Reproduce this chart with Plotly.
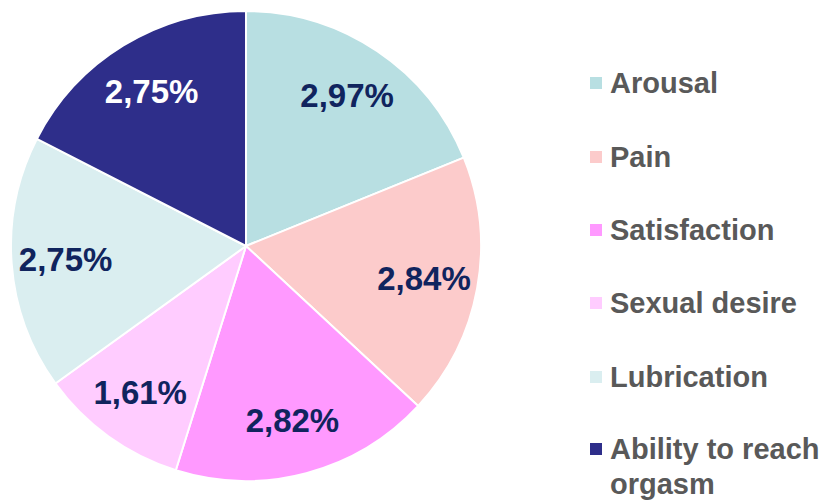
import plotly.graph_objects as go

categories = ["Arousal", "Pain", "Satisfaction", "Sexual desire", "Lubrication", "Ability to reach<br>orgasm"]
values = [2.97, 2.84, 2.82, 1.61, 2.75, 2.75]
colors = ["#B8DFE2", "#FCCBCB", "#FF99FF", "#FFCCFF", "#DAEEF0", "#2E2E8A"]
text_colors = ["#10245E", "#10245E", "#10245E", "#10245E", "#10245E", "#FFFFFF"]

labels_text = [f"{v:.2f}".replace(".", ",") + "%" for v in values]

# the page body has an 8px margin; positions below compensate for it
W, H, OFF = 832, 500, 8
cx, cy, R = 246 - OFF, 246 - OFF, 235
dom = dict(x=[(cx - R) / W, (cx + R) / W], y=[1 - (cy + R) / H, 1 - (cy - R) / H])

fig = go.Figure()
# coloured slices
fig.add_trace(go.Pie(
    labels=categories, values=values,
    textinfo="none", sort=False, direction="clockwise",
    marker=dict(colors=colors, line=dict(color="white", width=2)),
    domain=dom, showlegend=False, hoverinfo="label+value",
))
# transparent ring carrying the value labels (places them at ~3/4 radius)
fig.add_trace(go.Pie(
    labels=categories, values=values, hole=0.54,
    text=labels_text, textinfo="text", textposition="inside",
    insidetextorientation="horizontal", sort=False, direction="clockwise",
    marker=dict(colors=["rgba(0,0,0,0)"] * len(values), line=dict(width=0)),
    textfont=dict(family="Liberation Sans, Arial", size=33, color=text_colors, weight="bold"),
    domain=dom, showlegend=False, hoverinfo="skip",
))

# legend (drawn manually to match row spacing)
row_y = [83, 157, 230, 303, 377, 449]
line_gap = 35
legend_font = dict(family="Liberation Sans, Arial", size=29, color="#595959", weight="bold")
shapes, annotations = [], []
for i, (cat, col) in enumerate(zip(categories, colors)):
    yc = row_y[i] - OFF
    shapes.append(dict(type="rect", xref="paper", yref="paper",
                       x0=(590 - OFF) / W, x1=(602 - OFF) / W,
                       y0=1 - (yc + 6) / H, y1=1 - (yc - 6) / H,
                       fillcolor=col, line=dict(width=0)))
    for j, part in enumerate(cat.split("<br>")):
        annotations.append(dict(
            text=part, xref="paper", yref="paper",
            x=(608 - OFF) / W, y=1 - (yc + j * line_gap) / H,
            xanchor="left", yanchor="middle", align="left", showarrow=False,
            font=legend_font,
        ))

fig.update_layout(
    width=W, height=H,
    margin=dict(l=0, r=0, t=0, b=0),
    paper_bgcolor="white",
    showlegend=False,
    shapes=shapes,
    annotations=annotations,
)

fig.write_html("out.html")
